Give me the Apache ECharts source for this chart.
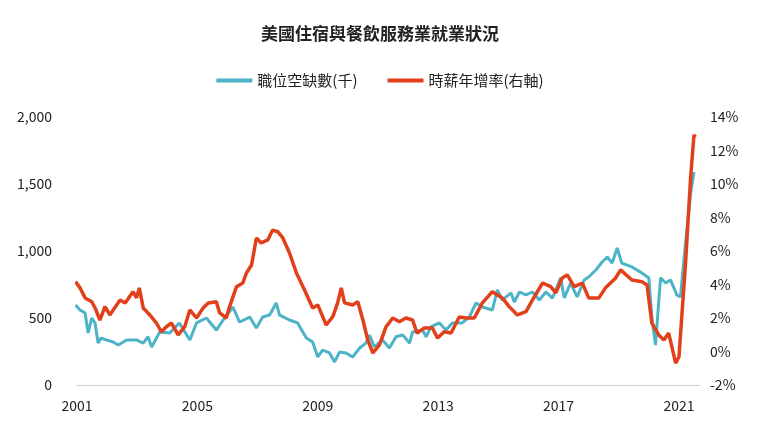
<!DOCTYPE html>
<html><head><meta charset="utf-8">
<script src="https://cdn.jsdelivr.net/npm/echarts@6/dist/echarts.min.js"></script>
<style>html,body{margin:0;padding:0;background:#fff}#c{width:760px;height:430px}</style>
</head><body><div id="c"></div>
<script>
const title = '美國住宿與餐飲服務業就業狀況';
const nameOpenings = '職位空缺數(千)';
const nameWage = '時薪年增率(右軸)';
const xTicks = [2001, 2005, 2009, 2013, 2017, 2021];
const openingsX = [2000.95,2001.1,2001.27,2001.37,2001.49,2001.6,2001.7,2001.8,2001.98,2002.2,2002.37,2002.65,2002.98,2003.2,2003.36,2003.48,2003.75,2004.08,2004.4,2004.75,2004.97,2005.3,2005.63,2005.9,2006.18,2006.4,2006.74,2006.96,2007.17,2007.4,2007.62,2007.73,2008.06,2008.33,2008.62,2008.83,2009.0,2009.16,2009.39,2009.56,2009.72,2009.94,2010.16,2010.39,2010.6,2010.72,2010.88,2011.15,2011.38,2011.6,2011.82,2012.05,2012.15,2012.48,2012.6,2012.76,2013.04,2013.26,2013.47,2013.8,2014.03,2014.26,2014.47,2014.8,2014.97,2015.13,2015.42,2015.53,2015.7,2015.92,2016.13,2016.36,2016.58,2016.8,2017.07,2017.19,2017.4,2017.62,2017.85,2018.0,2018.24,2018.45,2018.62,2018.78,2018.95,2019.1,2019.44,2019.77,2020.0,2020.1,2020.22,2020.39,2020.56,2020.72,2020.93,2021.05,2021.22,2021.39,2021.5];
const openingsY = [597,560,537,388,500,463,313,350,336,321,298,336,336,313,360,284,396,388,463,336,463,500,410,500,582,470,507,425,507,522,612,522,485,463,351,321,209,261,239,172,246,239,209,276,313,373,284,336,276,360,373,313,396,410,360,433,463,410,463,463,507,612,582,560,709,634,687,619,694,672,694,634,694,649,799,649,761,657,784,806,858,918,955,910,1022,910,881,836,799,507,298,799,761,784,672,657,1060,1433,1590];
const wageX = [2000.95,2001.1,2001.27,2001.49,2001.6,2001.76,2001.93,2002.09,2002.43,2002.6,2002.86,2002.98,2003.07,2003.2,2003.42,2003.64,2003.8,2003.97,2004.14,2004.36,2004.58,2004.75,2004.97,2005.19,2005.36,2005.63,2005.74,2005.96,2006.07,2006.3,2006.51,2006.63,2006.8,2006.96,2007.12,2007.34,2007.5,2007.67,2007.84,2008.06,2008.29,2008.56,2008.83,2009.0,2009.28,2009.5,2009.66,2009.78,2009.89,2010.16,2010.33,2010.5,2010.66,2010.83,2011.05,2011.27,2011.49,2011.71,2011.93,2012.15,2012.3,2012.54,2012.81,2012.98,2013.2,2013.43,2013.7,2013.93,2014.2,2014.47,2014.8,2015.13,2015.36,2015.63,2015.92,2016.13,2016.47,2016.74,2016.91,2017.12,2017.29,2017.52,2017.79,2018.0,2018.34,2018.56,2018.9,2019.06,2019.44,2019.77,2019.94,2020.1,2020.33,2020.5,2020.66,2020.89,2021.0,2021.22,2021.39,2021.5,2021.55];
const wageY = [4.17,3.8,3.2,2.97,2.6,1.88,2.68,2.18,3.07,2.9,3.57,3.2,3.8,2.6,2.18,1.7,1.18,1.48,1.7,0.99,1.48,2.48,2.0,2.6,2.9,2.97,2.3,2.0,2.68,3.87,4.09,4.69,5.16,6.78,6.48,6.66,7.25,7.15,6.78,5.88,4.69,3.67,2.6,2.78,1.58,2.08,2.9,3.8,2.9,2.78,2.97,1.88,0.69,-0.09,0.39,1.48,2.0,1.78,2.0,1.88,1.1,1.4,1.4,0.8,1.18,1.1,2.06,2.0,2.0,2.9,3.57,3.2,2.68,2.18,2.38,3.07,4.09,3.87,3.5,4.39,4.57,3.87,4.09,3.2,3.2,3.8,4.39,4.87,4.27,4.17,3.97,1.7,0.99,0.69,1.1,-0.69,-0.33,5.28,10.44,12.93,12.8];
const font = '"Noto Sans CJK TC","Noto Sans",sans-serif';
const blue = '#4db3c6', red = '#e1401b';
const chart = echarts.init(document.getElementById('c'));
chart.setOption({
  animation:false,
  title:{text:title,left:'center',top:20,textStyle:{fontFamily:font,fontSize:17,fontWeight:'bold',color:'#222'}},
  legend:{top:68,left:'center',itemWidth:36,itemHeight:4,itemGap:30,icon:'rect',textStyle:{fontFamily:font,fontSize:15,color:'#222'},data:[nameOpenings,nameWage]},
  grid:{left:77,right:60,top:117,bottom:45},
  xAxis:{type:'value',min:2001,max:2021.7,interval:4,
    axisLine:{lineStyle:{color:'#d0d0d0'}},axisTick:{show:false},splitLine:{show:false},
    axisLabel:{color:'#222',fontSize:14,fontFamily:font,margin:14,formatter:v=>xTicks.includes(v)?String(v):''}},
  yAxis:[
    {type:'value',min:0,max:2000,interval:500,splitLine:{show:false},axisLine:{show:false},axisTick:{show:false},
     axisLabel:{color:'#222',fontSize:14,fontFamily:font,margin:25,formatter:v=>v.toLocaleString('en-US')}},
    {type:'value',min:-2,max:14,interval:2,splitLine:{show:false},axisLine:{show:false},axisTick:{show:false},
     axisLabel:{color:'#222',fontSize:14,fontFamily:font,margin:10,formatter:v=>v+'%'}}
  ],
  series:[
    {name:nameOpenings,type:'line',yAxisIndex:0,showSymbol:false,data:openingsX.map((x,i)=>[x,openingsY[i]]),lineStyle:{color:blue,width:3},itemStyle:{color:blue}},
    {name:nameWage,type:'line',yAxisIndex:1,showSymbol:false,data:wageX.map((x,i)=>[x,wageY[i]]),lineStyle:{color:red,width:3.5},itemStyle:{color:red}}
  ]
});
</script></body></html>
